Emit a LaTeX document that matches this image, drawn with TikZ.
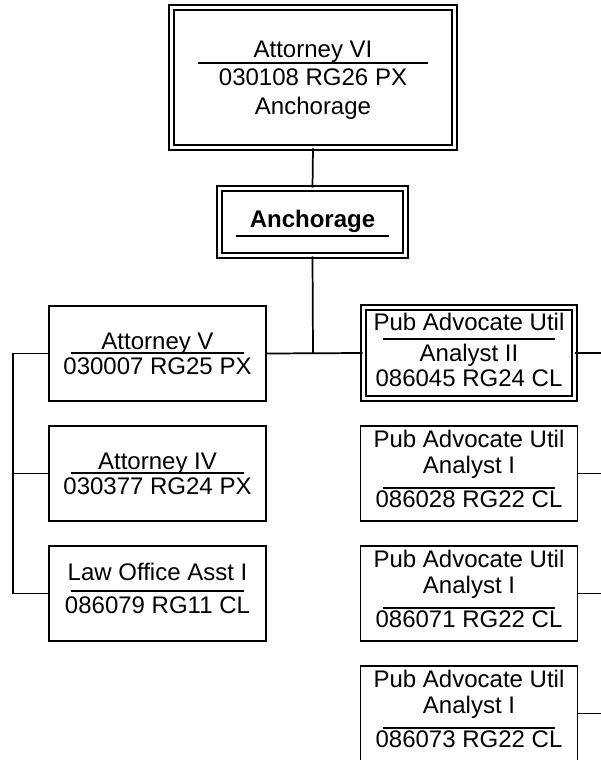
\documentclass[tikz,border=0pt]{standalone}
\usepackage{fontspec}
\setmainfont{Liberation Sans}
\begin{document}
\begin{tikzpicture}[x=0.75pt,y=-0.75pt,
  box/.style={draw, line width=1.3pt, minimum width=162.75pt, minimum height=71.25pt, inner sep=0pt},
  dbox/.style={draw, line width=1.3pt, double, double distance=2.4pt, inner sep=0pt},
  txt/.style={anchor=base, inner sep=0pt, font=\fontsize{18}{21}\selectfont},
  rule/.style={line width=1.2pt},
  conn/.style={line width=1.3pt}]
\useasboundingbox (0,0) rectangle (600,760);
% boxes
\node[dbox, minimum width=212.25pt, minimum height=105pt] (top) at (313,77.5) {};
\node[dbox, minimum width=139.5pt, minimum height=50.25pt] (anch) at (312.5,222) {};
\node[box] (av) at (157.5,353.5) {};
\node[box] (aiv) at (157.5,473.5) {};
\node[box] (lo) at (157.5,593.5) {};
\node[dbox, minimum width=158.25pt, minimum height=68.25pt] (p0) at (469,353) {};
\node[box] (p1) at (469,473.5) {};
\node[box] (p2) at (469,593.5) {};
\node[box] (p3) at (469,713.5) {};
% texts
\node[txt] (t1) at (313,57) {Attorney VI};
\node[txt] (t2) at (313,85) {030108 RG26 PX};
\node[txt] (t3) at (313,114) {Anchorage};
\draw[rule] (198,63) -- (428,63);
\node[txt, font=\fontsize{18}{21}\selectfont\bfseries] (a1) at (312.5,227) {Anchorage};
\draw[rule] (236,236) -- (389,236);
\node[txt] (av1) at (157.5,349) {Attorney V};
\node[txt] (av2) at (157.5,374) {030007 RG25 PX};
\draw[rule] (70.7,353) -- (244.3,353);
\node[txt] (ai1) at (157.5,469) {Attorney IV};
\node[txt] (ai2) at (157.5,494) {030377 RG24 PX};
\draw[rule] (70.7,473) -- (244.3,473);
\node[txt] (lo1) at (157.5,580) {Law Office Asst I};
\node[txt] (lo2) at (157.5,613) {086079 RG11 CL};
\draw[rule] (70.7,591) -- (244.3,591);
\node[txt] (p01) at (469,330) {Pub Advocate Util};
\node[txt] (p02) at (469,361) {Analyst II};
\node[txt] (p03) at (469,386) {086045 RG24 CL};
\draw[rule] (382.6,339) -- (555.4,339);
\node[txt] (p11) at (469,447) {Pub Advocate Util};
\node[txt] (p12) at (469,473) {Analyst I};
\node[txt] (p13) at (469,507) {086028 RG22 CL};
\draw[rule] (382.6,488) -- (555.4,488);
\node[txt] (p21) at (469,567) {Pub Advocate Util};
\node[txt] (p22) at (469,593) {Analyst I};
\node[txt] (p23) at (469,627) {086071 RG22 CL};
\draw[rule] (382.6,608) -- (555.4,608);
\node[txt] (p31) at (469,687) {Pub Advocate Util};
\node[txt] (p32) at (469,713) {Analyst I};
\node[txt] (p33) at (469,747) {086073 RG22 CL};
\draw[rule] (382.6,728) -- (555.4,728);
% connectors
\coordinate (j) at (313,353);
\coordinate (lb) at (13,353.5);
\coordinate (rb) at (602,353);
\draw[conn] (top.south) -- (anch.north);
\draw[conn] (anch.south) -- (j);
\draw[conn] (av.east) -- (p0.west);
\draw[conn] (av.west) -- (lb) |- (lo.west);
\draw[conn] (aiv.west) -- (aiv.west -| lb);
\draw[conn] (p0.east) -- (p0.east -| rb);
\draw[conn] (p1.east) -- (p1.east -| rb);
\draw[conn] (p2.east) -- (p2.east -| rb);
\draw[conn] (p3.east) -- (p3.east -| rb);
\end{tikzpicture}
\end{document}
